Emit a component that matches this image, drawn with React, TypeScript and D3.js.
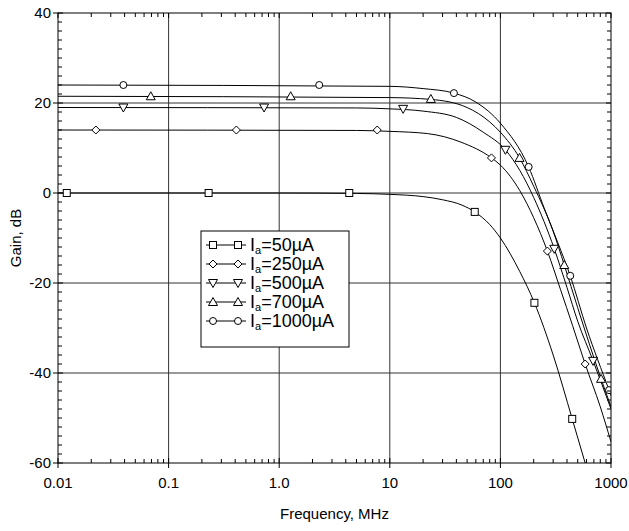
import React from "react";
import * as d3 from "d3";

// frequency (MHz) / gain (dB)
const series = ["50", "250", "500", "700", "1000"];
const symbols = ["square", "diamond", "triDown", "triUp", "circle"];

const curve50 = [[0.01, 0], [1, 0], [5, -0.1], [10, -0.3], [20, -0.8], [30, -1.5], [45, -2.7], [58.6, -4.2], [80, -7], [100, -10], [150, -17.5], [203, -24.4], [300, -36], [446, -50.2], [584, -60]];
const curve250 = [[0.01, 14], [5, 13.9], [10, 13.7], [22, 13.2], [44, 11.3], [83, 7.8], [100, 6.2], [150, 0.5], [200, -5.5], [266, -12.9], [350, -21.5], [450, -29.5], [584, -38], [800, -47.5], [1000, -55.3]];
const curve500 = [[0.01, 19], [5, 18.9], [10, 18.7], [20, 18.2], [40, 16.8], [70, 13.5], [111, 9.6], [150, 5], [200, -1], [307, -12.4], [400, -21], [500, -28.5], [689, -37.3], [1000, -48]];
const curve700 = [[0.01, 21.5], [10, 21.2], [23.5, 20.8], [50, 19], [80, 15.8], [100, 13.5], [149, 7.8], [200, 1.5], [300, -8.5], [378, -16], [500, -25.5], [813, -41.3], [1000, -47.5]];
const curve1000 = [[0.01, 24], [10, 23.7], [20, 23.2], [38, 22.2], [60, 20.2], [100, 15.5], [180, 5.8], [250, -3.5], [330, -11], [428, -18.4], [600, -30], [960, -43.8], [1000, -45]];

const marks50 = [[0.012, 0], [0.23, 0], [4.3, 0], [58.6, -4.2], [203, -24.4], [446, -50.2]];
const marks250 = [[0.022, 14], [0.41, 14], [7.7, 14], [83, 7.8], [266, -12.9], [584, -38]];
const marks500 = [[0.039, 19], [0.73, 19], [13.2, 18.7], [111, 9.6], [307, -12.4], [689, -37.3]];
const marks700 = [[0.069, 21.5], [1.27, 21.5], [23.5, 20.9], [149, 7.8], [378, -16], [813, -41.3]];
const marks1000 = [[0.039, 24], [2.3, 24], [38, 22.2], [180, 5.8], [428, -18.4], [960, -43.8]];

const curves = [curve50, curve250, curve500, curve700, curve1000];
const marks = [marks50, marks250, marks500, marks700, marks1000];

const xMajor = [0.01, 0.1, 1, 10, 100, 1000];
const xLabels = ["0.01", "0.1", "1.0", "10", "100", "1000"];
const yMajor = [40, 20, 0, -20, -40, -60];
const xGrid = [0.1, 1, 10, 100];
const yGrid = [20, 0, -20, -40];

const L = 58, R = 611, T = 13, B = 463;
const font = "Liberation Sans, Arial, sans-serif";

function Marker({ type, x, y }: { type: string; x: number; y: number }) {
  const st = { fill: "white", stroke: "black", strokeWidth: 1 };
  if (type === "square") return <rect x={x - 3.5} y={y - 3.5} width={7} height={7} {...st} />;
  if (type === "diamond") return <path d={`M${x},${y - 4}L${x + 4},${y}L${x},${y + 4}L${x - 4},${y}Z`} {...st} />;
  if (type === "triDown") return <path d={`M${x - 4.5},${y - 3.5}L${x + 4.5},${y - 3.5}L${x},${y + 4.5}Z`} {...st} />;
  if (type === "triUp") return <path d={`M${x - 4.5},${y + 3.5}L${x + 4.5},${y + 3.5}L${x},${y - 4.5}Z`} {...st} />;
  return <circle cx={x} cy={y} r={3.5} {...st} />;
}

export default function App() {
  const x = d3.scaleLog().domain([0.01, 1000]).range([L, R]);
  const y = d3.scaleLinear().domain([-60, 40]).range([B, T]);
  const line = d3.line<number[]>().x((d) => x(d[0])).y((d) => y(d[1])).curve(d3.curveMonotoneX);

  const xMinor: number[] = [];
  for (let e = -2; e < 3; e++) for (let k = 2; k < 10; k++) xMinor.push(k * Math.pow(10, e));
  const yMinor = d3.range(-60, 41, 2).filter((v) => v % 20 !== 0);

  return (
    <svg width={629} height={531} style={{ display: "block", position: "absolute", left: 0, top: 0 }}>
      <rect width={629} height={531} fill="white" />
      <defs>
        <clipPath id="plot">
          <rect x={L} y={T} width={R - L} height={B - T} />
        </clipPath>
      </defs>
      {/* grid */}
      {xGrid.map((v) => (
        <line key={"gx" + v} x1={x(v)} x2={x(v)} y1={T} y2={B} stroke="#333" strokeWidth={1} />
      ))}
      {yGrid.map((v) => (
        <line key={"gy" + v} x1={L} x2={R} y1={y(v)} y2={y(v)} stroke="#333" strokeWidth={1} />
      ))}
      {/* curves */}
      <g clipPath="url(#plot)">
        {curves.map((c, i) => (
          <path key={"c" + i} d={line(c) || ""} fill="none" stroke="black" strokeWidth={1} />
        ))}
        {marks.map((m, i) => m.map((p, j) => <Marker key={i + "-" + j} type={symbols[i]} x={x(p[0])} y={y(p[1])} />))}
      </g>
      {/* frame */}
      <rect x={L} y={T} width={R - L} height={B - T} fill="none" stroke="black" strokeWidth={1} />
      {/* x ticks */}
      {xMajor.map((v) => (
        <g key={"xt" + v}>
          <line x1={x(v)} x2={x(v)} y1={B - 5} y2={B + 5} stroke="black" />
          <line x1={x(v)} x2={x(v)} y1={T} y2={T + 5} stroke="black" />
        </g>
      ))}
      {xMinor.map((v) => (
        <g key={"xm" + v}>
          <line x1={x(v)} x2={x(v)} y1={B - 4} y2={B} stroke="black" />
          <line x1={x(v)} x2={x(v)} y1={T} y2={T + 4} stroke="black" />
        </g>
      ))}
      {yMajor.map((v) => (
        <g key={"yt" + v}>
          <line x1={L - 5} x2={L + 5} y1={y(v)} y2={y(v)} stroke="black" />
          <line x1={R - 5} x2={R} y1={y(v)} y2={y(v)} stroke="black" />
        </g>
      ))}
      {yMinor.map((v) => (
        <g key={"ym" + v}>
          <line x1={L} x2={L + 4} y1={y(v)} y2={y(v)} stroke="black" />
          <line x1={R - 4} x2={R} y1={y(v)} y2={y(v)} stroke="black" />
        </g>
      ))}
      {/* tick labels */}
      {xMajor.map((v, i) => (
        <text key={"xl" + v} x={x(v)} y={B + 25} textAnchor="middle" fontFamily={font} fontSize={15}>
          {xLabels[i]}
        </text>
      ))}
      {yMajor.map((v) => (
        <text key={"yl" + v} x={L - 7} y={y(v) + 5} textAnchor="end" fontFamily={font} fontSize={15}>
          {v}
        </text>
      ))}
      <text x={(L + R) / 2} y={519} textAnchor="middle" fontFamily={font} fontSize={15}>
        Frequency, MHz
      </text>
      <text transform={`translate(21,${(T + B) / 2}) rotate(-90)`} textAnchor="middle" fontFamily={font} fontSize={15}>
        Gain, dB
      </text>
      {/* legend */}
      <rect x={201} y={231} width={148} height={116} fill="white" stroke="black" strokeWidth={1} />
      {series.map((s, i) => {
        const ly = 245 + i * 19;
        return (
          <g key={"lg" + s}>
            <line x1={206} x2={246} y1={ly} y2={ly} stroke="black" />
            <Marker type={symbols[i]} x={213} y={ly} />
            <Marker type={symbols[i]} x={238} y={ly} />
            <text x={250} y={ly + 6} fontFamily={font} fontSize={18}>
              I<tspan fontSize={11} dy={3}>a</tspan>
              <tspan dy={-3}>={s}µA</tspan>
            </text>
          </g>
        );
      })}
    </svg>
  );
}
